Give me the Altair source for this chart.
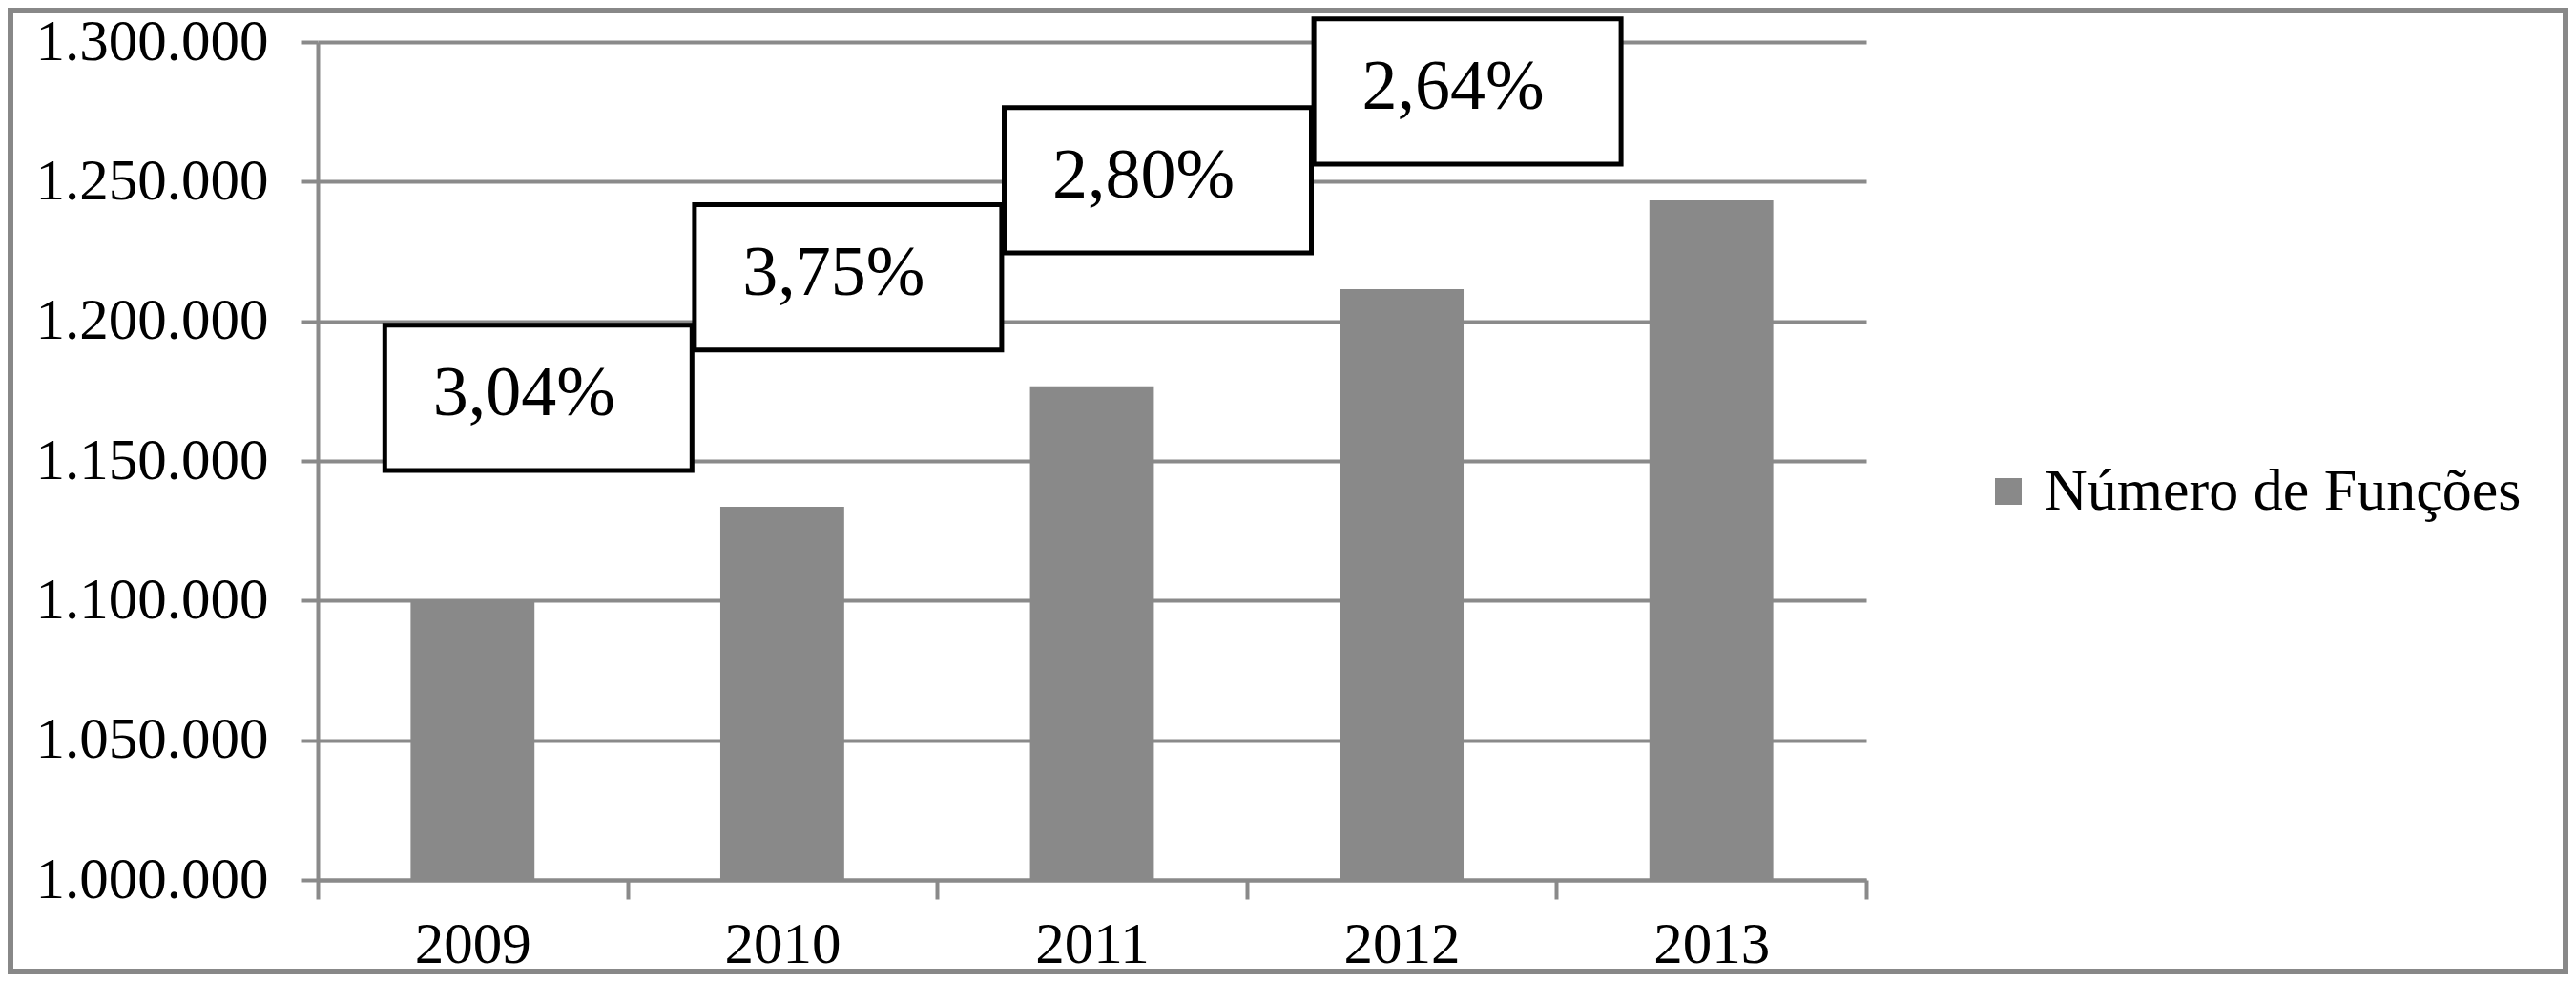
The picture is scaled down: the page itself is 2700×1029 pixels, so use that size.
import altair as alt
import pandas as pd

# Número de funções por ano
years = ["2009", "2010", "2011", "2012", "2013"]
funcoes = [1100000, 1133600, 1176700, 1211500, 1243300]
serie = "Número de Funções"

# taxa de crescimento de um ano para o seguinte
growth_from = ["2009", "2010", "2011", "2012"]
growth_labels = ["3,04%", "3,75%", "2,80%", "2,64%"]

y_ticks = [1000000, 1050000, 1100000, 1150000, 1200000, 1250000, 1300000]

FONT = "Liberation Serif"
BAR_GRAY = "#898989"
LINE_GRAY = "#8a8a8a"

bars_df = pd.DataFrame({"ano": years, "valor": funcoes, "serie": serie})
# each growth box sits just above the bar of the following year
notes_df = pd.DataFrame({"ano": growth_from, "taxa": growth_labels, "proximo": funcoes[1:]})

W, H = 1623, 878

x_scale = alt.Scale(domain=years, paddingInner=0, paddingOuter=0)
y_scale = alt.Scale(domain=[1000000, 1300000], nice=False, zero=False)

x_axis = alt.Axis(
    title=None, labelAngle=0, tickBand="extent", tickSize=20, tickWidth=4,
    tickColor=LINE_GRAY, domainColor=LINE_GRAY, domainWidth=4,
    labelFont=FONT, labelFontSize=61, labelColor="black", labelPadding=18,
    labelLimit=0,
)
y_axis = alt.Axis(
    title=None, values=y_ticks, grid=True, gridColor=LINE_GRAY, gridWidth=4,
    tickSize=17, tickWidth=4, tickColor=LINE_GRAY, domainColor=LINE_GRAY, domainWidth=4,
    labelFont=FONT, labelFontSize=61, labelColor="black", labelPadding=35,
    labelLimit=0,
    labelExpr="replace(format(datum.value, ','), regexp(',', 'g'), '.')",
)

frame = alt.Chart(pd.DataFrame({"f": [0]})).mark_rect(
    filled=False, stroke="#888888", strokeWidth=6
).encode(
    x=alt.value(-322), x2=alt.value(2356), y=alt.value(-33), y2=alt.value(974)
)

bars = alt.Chart(bars_df).mark_bar(width={"band": 0.4}, clip=True).encode(
    x=alt.X("ano:N", scale=x_scale, axis=x_axis),
    y=alt.Y("valor:Q", scale=y_scale, axis=y_axis),
    color=alt.Color(
        "serie:N",
        scale=alt.Scale(range=[BAR_GRAY]),
        legend=alt.Legend(
            title=None, orient="none", legendX=1741, legendY=440, padding=0,
            symbolType="square", symbolSize=784, symbolStrokeWidth=0,
            labelFont=FONT, labelFontSize=62, labelColor="black", labelOffset=7,
            labelLimit=0,
        ),
    ),
)

boxes = alt.Chart(notes_df).transform_calculate(
    base="datum.proximo + 13000", topo="datum.proximo + 65000"
).mark_bar(
    width=322, xOffset=69, fill="white", stroke="black", strokeWidth=5
).encode(
    x=alt.X("ano:N", scale=x_scale, axis=x_axis),
    y=alt.Y("topo:Q", scale=y_scale, axis=y_axis),
    y2="base:Q",
)

labels = alt.Chart(notes_df).transform_calculate(
    meio="datum.proximo + 39000"
).mark_text(
    font=FONT, fontSize=74, color="black", align="center", baseline="middle",
    xOffset=54, dy=-4,
).encode(
    x=alt.X("ano:N", scale=x_scale, axis=x_axis),
    y=alt.Y("meio:Q", scale=y_scale, axis=y_axis),
    text="taxa:N",
)

chart = alt.layer(frame, bars, boxes, labels).properties(
    width=W,
    height=H,
    autosize=alt.AutoSizeParams(type="none"),
    padding={"left": 325, "top": 36, "right": 736, "bottom": 99},
    background="white",
).configure_view(stroke="transparent")

chart.save("out.html", embed_options={"renderer": "svg", "actions": False})
